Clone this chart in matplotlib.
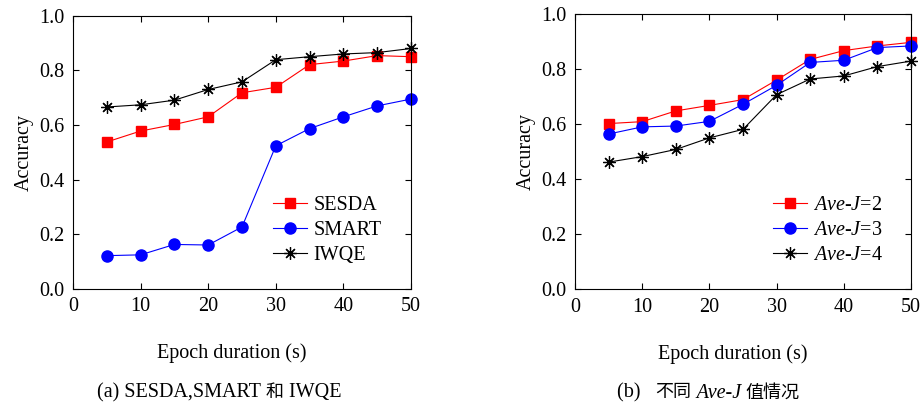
import matplotlib
matplotlib.use("Agg")
import matplotlib.pyplot as plt

plt.rcParams['font.family'] = ['Liberation Serif', 'Noto Sans CJK SC']
plt.rcParams['mathtext.fontset'] = 'custom'
plt.rcParams['mathtext.it'] = 'Liberation Serif:italic'
plt.rcParams['mathtext.rm'] = 'Liberation Serif'

epochs = [5, 10, 15, 20, 25, 30, 35, 40, 45, 50]

sesda = [0.538, 0.578, 0.602, 0.630, 0.718, 0.738, 0.821, 0.834, 0.854, 0.850]
smart = [0.122, 0.125, 0.163, 0.161, 0.227, 0.524, 0.587, 0.630, 0.670, 0.695]
iwqe = [0.666, 0.674, 0.691, 0.730, 0.758, 0.839, 0.850, 0.860, 0.865, 0.880]

avej2 = [0.602, 0.609, 0.648, 0.668, 0.689, 0.760, 0.835, 0.867, 0.884, 0.897]
avej3 = [0.564, 0.590, 0.593, 0.610, 0.672, 0.741, 0.824, 0.832, 0.878, 0.884]
avej4 = [0.462, 0.482, 0.508, 0.550, 0.581, 0.707, 0.764, 0.775, 0.809, 0.829]

labels_a = ['SESDA', 'SMART', 'IWQE']
labels_b = [r'$\mathit{Ave}$-$\mathit{J}$=2', r'$\mathit{Ave}$-$\mathit{J}$=3', r'$\mathit{Ave}$-$\mathit{J}$=4']
xticks = [0, 10, 20, 30, 40, 50]
yticks = [0.0, 0.2, 0.4, 0.6, 0.8, 1.0]

fig = plt.figure(figsize=(9.22, 4.07), dpi=100)
W, H = 922, 407
ax1 = fig.add_axes([73 / W, 1 - 289 / H, (411 - 73) / W, (289 - 15.7) / H])
ax2 = fig.add_axes([575 / W, 1 - 289.3 / H, (911 - 575) / W, (289.3 - 14) / H])

styles = [
    dict(color='#ff0000', marker='s', markersize=6.5, markerfacecolor='#ff0000', markeredgecolor='#ff0000'),
    dict(color='#0000ff', marker='o', markersize=8, markerfacecolor='#0000ff', markeredgecolor='#0000ff'),
    dict(color='#000000', marker=(8, 2, 0), markersize=9, markeredgewidth=0.9),
]

FS = 14.5

def setup(ax, series, labels, legx):
    for s, lab, st in zip(series, labels, styles):
        ax.plot(epochs, s, label=lab, linewidth=0.8, clip_on=False, **st)
    ax.set_xlim(0, 50)
    ax.set_ylim(0, 1.0)
    ax.set_xticks(xticks)
    ax.set_yticks(yticks)
    ax.set_yticklabels([f'{v:.1f}' for v in yticks])
    ax.tick_params(direction='in', top=True, right=True, labelsize=FS, length=4, width=0.8, pad=6)
    for sp in ax.spines.values():
        sp.set_linewidth(0.8)
    ax.set_ylabel('Accuracy', fontsize=FS, labelpad=4)
    ax.set_xlabel('Epoch duration (s)', fontsize=FS, labelpad=16)
    ax.xaxis.set_label_coords(0.47, -0.2)
    ax.legend(loc='upper left', bbox_to_anchor=(legx, 0.34), frameon=False, fontsize=FS,
              handlelength=1.7, handletextpad=0.3, labelspacing=0.3, borderaxespad=0.0,
              borderpad=0.0)

setup(ax1, [sesda, smart, iwqe], labels_a, 0.592)
setup(ax2, [avej2, avej3, avej4], labels_b, 0.589)

CFS = 14.5
CJK = 13
yc = 1 - 393 / H
fig.canvas.draw()
renderer = fig.canvas.get_renderer()

def chain(x0, parts):
    x = x0 / W
    for txt, style, fs in parts:
        t = fig.text(x, yc, txt, ha='left', va='center', fontsize=fs, fontstyle=style)
        bb = t.get_window_extent(renderer=renderer)
        x += bb.width / W

chain(97, [('(a) SESDA,SMART ', 'normal', CFS), ('和', 'normal', CJK), (' IWQE', 'normal', CFS)])
chain(617, [('(b)   ', 'normal', CFS), ('不同', 'normal', CJK), (' Ave-J ', 'italic', CFS), ('值情况', 'normal', CJK)])

fig.savefig('out.png', dpi=100)
